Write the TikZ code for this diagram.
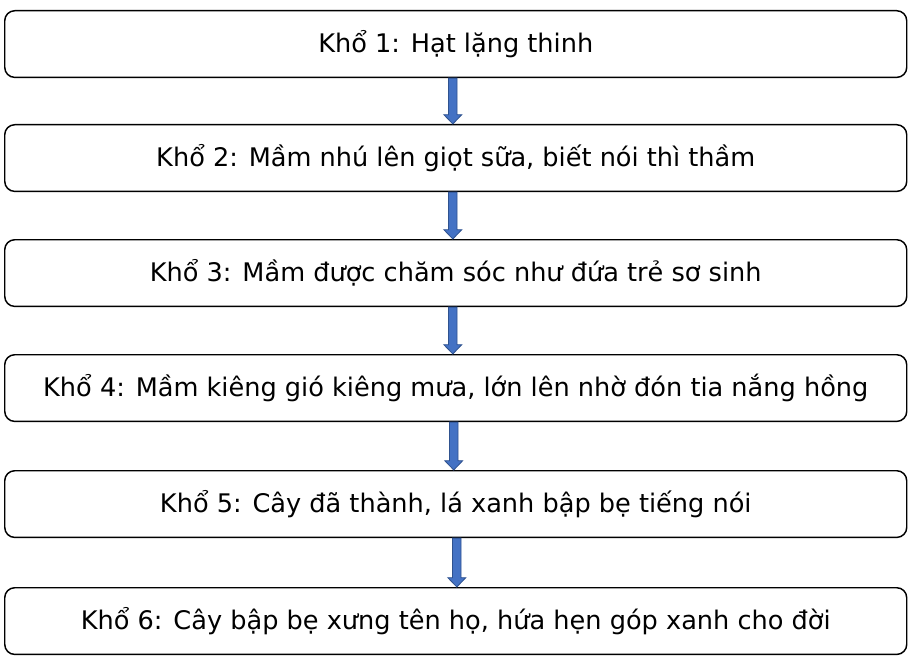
\documentclass[tikz,border=0pt]{standalone}
\usepackage{fontspec}
\setmainfont{DejaVu Sans}
\usetikzlibrary{calc}
\tikzset{
  px/.style={x=0.75pt,y=0.75pt},
  stage/.style={draw=black, line width=1.1pt, rounded corners=7.5pt, minimum width=676.5pt, minimum height=50pt, inner sep=0pt, font=\fontsize{19.2}{22}\selectfont, anchor=north west},
  blockarrow/.style={fill=arrowblue, line width=0.6pt,
    to path={let \p1=(\tikztostart), \p2=(\tikztotarget) in
      (\x1-3.2pt,\y1) -- (\x1+3.2pt,\y1) -- (\x1+3.2pt,\y2+7pt) -- (\x1+6.75pt,\y2+7pt)
      -- (\x1,\y2) -- (\x1-6.75pt,\y2+7pt) -- (\x1-3.2pt,\y2+7pt) -- cycle}}
}
\definecolor{arrowblue}{HTML}{4472C4}
\definecolor{arrowedge}{HTML}{2F528F}
\begin{document}
\begin{tikzpicture}[px]
\useasboundingbox (0,0) rectangle (913,658);
\node[stage] (b1) at (4,648) {Khổ 1: Hạt lặng thinh};
\node[stage] (b2) at (4,534) {Khổ 2: Mầm nhú lên giọt sữa, biết nói thì thầm};
\node[stage] (b3) at (4,419) {Khổ 3: Mầm được chăm sóc như đứa trẻ sơ sinh};
\node[stage] (b4) at (4,304) {Khổ 4: Mầm kiêng gió kiêng mưa, lớn lên nhờ đón tia nắng hồng};
\node[stage] (b5) at (4,188) {Khổ 5: Cây đã thành, lá xanh bập bẹ tiếng nói};
\node[stage] (b6) at (4,71) {Khổ 6: Cây bập bẹ xưng tên họ, hứa hẹn góp xanh cho đời};
\path[blockarrow, draw=arrowedge] ([xshift=-2.2pt]b1.south) to ([xshift=-2.2pt]b2.north);
\path[blockarrow, draw=arrowedge] ([xshift=-2.2pt]b2.south) to ([xshift=-2.2pt]b3.north);
\path[blockarrow, draw=arrowedge] ([xshift=-2.2pt]b3.south) to ([xshift=-2.2pt]b4.north);
\path[blockarrow, draw=arrowedge] ([xshift=-1.5pt]b4.south) to ([xshift=-1.5pt]b5.north);
\path[blockarrow, draw=arrowedge] ([xshift=0.8pt]b5.south) to ([xshift=0.8pt]b6.north);
\end{tikzpicture}
\end{document}
